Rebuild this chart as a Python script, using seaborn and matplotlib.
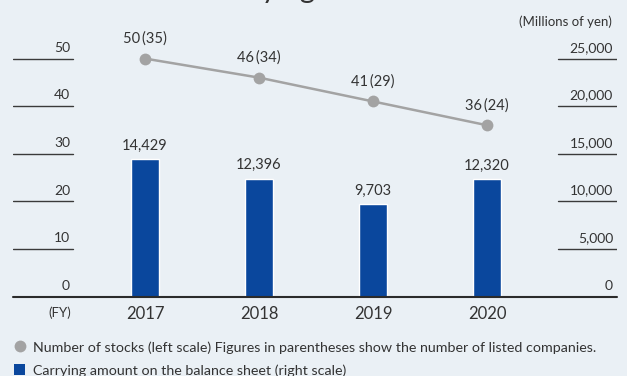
import numpy as np
import matplotlib
matplotlib.use("Agg")
import matplotlib.pyplot as plt
from matplotlib.lines import Line2D
from matplotlib.patches import Patch
import seaborn as sns

sns.set_style("white")
plt.rcParams['font.family'] = ['Lato', 'DejaVu Sans']
plt.rcParams['axes.unicode_minus'] = False

# values
years = ['2017', '2018', '2019', '2020']
stocks = [50, 46, 41, 36]
listed = [35, 34, 29, 24]
carrying = [14429, 12396, 9703, 12320]
left_ticks = [0, 10, 20, 30, 40, 50]
right_ticks = [0, 5000, 10000, 15000, 20000, 25000]

BG = '#eaf0f5'
BLUE = '#0a479d'
GREY = '#a3a3a3'
TXT = '#333333'

fig = plt.figure(figsize=(6.27, 3.76), dpi=100, facecolor=BG)
ax = fig.add_axes([13 / 627, 79.3 / 376, 604 / 627, 276.7 / 376])
ax.set_facecolor(BG)

# bars, right scale
sns.barplot(x=years, y=carrying, ax=ax, color=BLUE, saturation=1, width=0.245)
ax.set_ylim(0, 58.1 * 500)

ax2 = ax.twinx()
sns.lineplot(x=np.arange(len(years)), y=stocks, ax=ax2, color=GREY, marker='o',
             markersize=8.5, markeredgewidth=0, linewidth=1.8)
ax2.set_ylim(0, 58.1)
ax.set_xlim(-1.158, 4.14)

for a in (ax, ax2):
    for s in a.spines.values():
        s.set_visible(False)
    a.set_ylabel('')
    a.set_yticks([])
ax2.tick_params(right=False, labelright=False)

ax.set_xticks(range(len(years)))
ax.set_xticklabels(years)
ax.tick_params(axis='x', length=0, pad=7, labelsize=12, labelcolor=TXT)
ax.set_xlabel('')

# baseline
ax.axhline(0, color='#2b2b2b', lw=1.5, zorder=5, clip_on=False)

# tick fragments with labels above them
for v in left_ticks[1:]:
    ax2.axhline(v, xmin=0, xmax=60 / 604, color='#3a3a3a', lw=1)
for v in left_ticks:
    ax2.annotate(str(v), (57 / 604, v), xycoords=('axes fraction', 'data'),
                 xytext=(0, 3.5), textcoords='offset points',
                 ha='right', va='bottom', fontsize=10, color=TXT)
for v in right_ticks[1:]:
    ax.axhline(v, xmin=545 / 604, xmax=1, color='#3a3a3a', lw=1)
for v in right_ticks:
    ax.annotate(f"{v:,}", (600 / 604, v), xycoords=('axes fraction', 'data'),
                xytext=(0, 3.5), textcoords='offset points',
                ha='right', va='bottom', fontsize=10, color=TXT)

# value labels
for i, v in enumerate(carrying):
    ax.annotate(f"{v:,}", (i, v), xytext=(0, 4.5), textcoords='offset points',
                ha='center', va='bottom', fontsize=10.5, color=TXT)
for i, (s, l) in enumerate(zip(stocks, listed)):
    ax2.annotate(f"{s}\u2009({l})", (i, s), xytext=(0, 9), textcoords='offset points',
                 ha='center', va='bottom', fontsize=10.5, color=TXT)

fig.text(612 / 627, 1 - 22 / 376, '(Millions of yen)', ha='right', va='center',
         fontsize=9.5, color=TXT)
fig.text(60 / 627, 1 - 313 / 376, '(FY)', ha='center', va='center',
         fontsize=9.5, color=TXT)
# title, cut off at the top edge as in the reference
fig.text(60 / 627, 1 + 2.5 / 376, 'Stocks and Carrying Amount on the Balance Sheet',
         ha='left', va='baseline', fontsize=21, color='#333333')

handles = [Line2D([], [], marker='o', color=GREY, lw=0, markersize=8.5, markeredgewidth=0),
           Patch(facecolor=BLUE, edgecolor='none')]
labels = ['Number of stocks (left scale) Figures in parentheses show the number of listed companies.',
          'Carrying amount on the balance sheet (right scale)']
leg = fig.legend(handles, labels, loc='upper left', bbox_to_anchor=(14 / 627, 1 - 341 / 376),
                 frameon=False, fontsize=10.3, handlelength=0.8, handleheight=0.8,
                 handletextpad=0.5, labelspacing=0.75, borderaxespad=0, borderpad=0)
for t in leg.get_texts():
    t.set_color(TXT)

fig.savefig('out.png', dpi=100, facecolor=BG)
